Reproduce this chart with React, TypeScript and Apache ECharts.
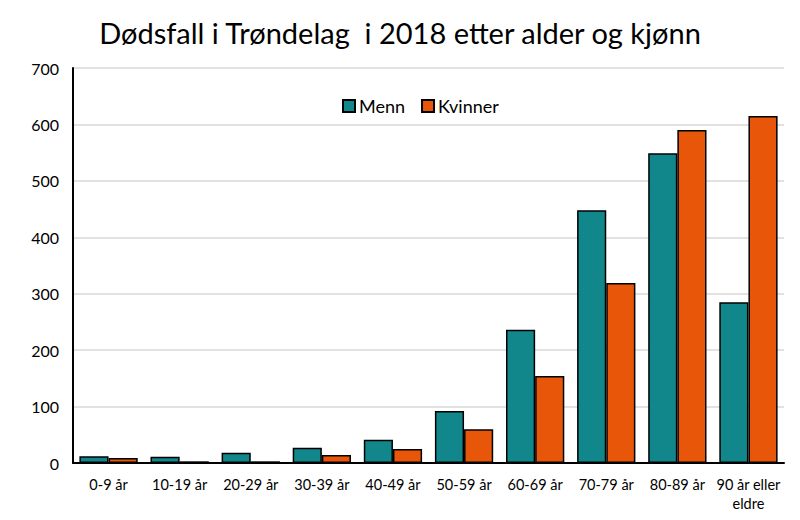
import React, { useEffect, useRef } from "react";
import * as echarts from "echarts";

const categories = ["0-9 år", "10-19 år", "20-29 år", "30-39 år", "40-49 år", "50-59 år", "60-69 år", "70-79 år", "80-89 år", "90 år eller\neldre"];
const menn = [12, 11, 18, 27, 41, 92, 236, 448, 549, 285];
const kvinner = [9, 3, 3, 14, 25, 60, 154, 319, 590, 615];
const yTicks = [0, 100, 200, 300, 400, 500, 600, 700];

const FONT = "Lato, 'Open Sans', sans-serif";

export default function App() {
  const ref = useRef<HTMLDivElement>(null);
  useEffect(() => {
    if (!ref.current) return;
    const chart = echarts.init(ref.current, undefined, { renderer: "svg" });
    chart.setOption({
      animation: false,
      backgroundColor: "#ffffff",
      title: {
        text: "Dødsfall i Trøndelag  i 2018 etter alder og kjønn",
        left: "center",
        top: 13,
        textStyle: { fontFamily: FONT, fontSize: 29, fontWeight: "normal", color: "#000" },
      },
      legend: {
        data: ["Menn", "Kvinner"],
        left: 337,
        top: 92,
        itemWidth: 12,
        itemHeight: 12,
        itemGap: 16,
        icon: "rect",
        textStyle: { fontFamily: FONT, fontSize: 18, color: "#000", padding: [0, 0, 0, -1] },
      },
      grid: { left: 73, right: 16, top: 68, bottom: 57, containLabel: false },
      xAxis: {
        type: "category",
        data: categories,
        axisLine: { lineStyle: { color: "#000", width: 2 } },
        axisTick: { show: false },
        axisLabel: { fontFamily: FONT, fontSize: 14.5, color: "#000", margin: 12, interval: 0, lineHeight: 19 },
      },
      yAxis: {
        type: "value",
        min: yTicks[0],
        max: yTicks[yTicks.length - 1],
        interval: 100,
        axisLine: { show: true, lineStyle: { color: "#000", width: 2 } },
        axisTick: { show: false },
        splitLine: { lineStyle: { color: "#d9d9d9", width: 1.5 } },
        axisLabel: { fontFamily: FONT, fontSize: 16, color: "#000", margin: 14 },
      },
      series: [
        {
          name: "Menn",
          type: "bar",
          data: menn,
          barGap: "0%",
          barCategoryGap: "18%",
          itemStyle: { color: "#11878c", borderColor: "#000", borderWidth: 1.5 },
        },
        {
          name: "Kvinner",
          type: "bar",
          data: kvinner,
          itemStyle: { color: "#e8560a", borderColor: "#000", borderWidth: 1.5 },
        },
      ],
    });
    return () => chart.dispose();
  }, []);
  return <div ref={ref} style={{ width: 800, height: 520, position: "absolute", left: 0, top: 0 }} />;
}
